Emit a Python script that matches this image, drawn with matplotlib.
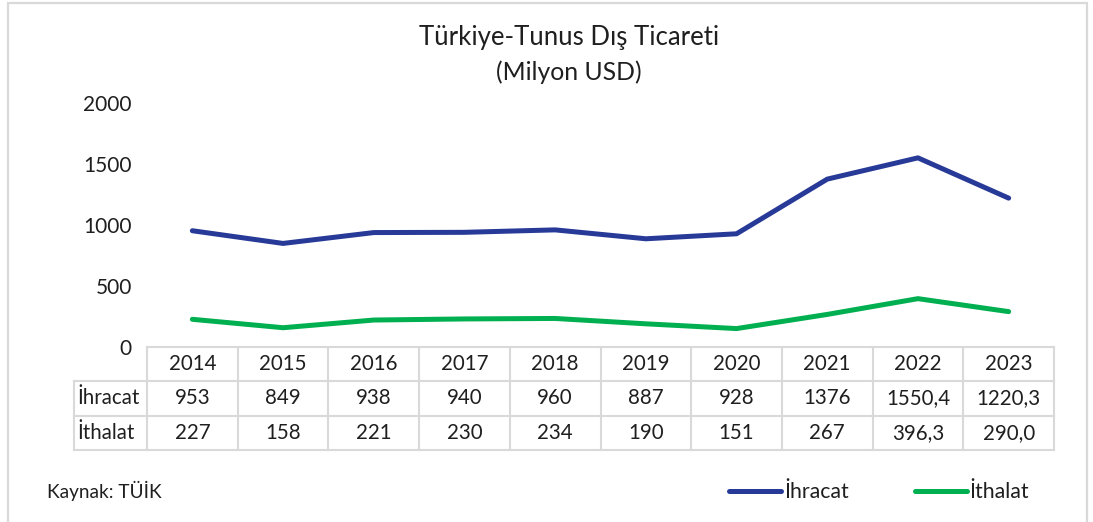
import matplotlib
matplotlib.use("Agg")
import matplotlib.pyplot as plt
from matplotlib.patches import Rectangle
from matplotlib.lines import Line2D
from matplotlib.transforms import blended_transform_factory

plt.rcParams['font.family'] = ['Lato', 'DejaVu Sans']

years = ["2014", "2015", "2016", "2017", "2018", "2019", "2020", "2021", "2022", "2023"]
ihracat = [953, 849, 938, 940, 960, 887, 928, 1376, 1550.4, 1220.3]
ithalat = [227, 158, 221, 230, 234, 190, 151, 267, 396.3, 290.0]
ihracat_labels = ["953", "849", "938", "940", "960", "887", "928", "1376", "1550,4", "1220,3"]
ithalat_labels = ["227", "158", "221", "230", "234", "190", "151", "267", "396,3", "290,0"]
series_names = ["İhracat", "İthalat"]
title = "Türkiye-Tunus Dış Ticareti"
subtitle = "(Milyon USD)"
source = "Kaynak: TÜİK"

W, H = 1093, 522
fig = plt.figure(figsize=(W / 100, H / 100), dpi=100)

def fx(px):
    return px / W

def fy(py):
    return 1 - py / H

TXT = '#1f1f1f'
GRID = '#d9d9d9'
BLUE = '#283A97'
GREEN = '#00B050'

# outer border
fig.patches.append(Rectangle((fx(8), fy(540)), fx(1087) - fx(8), fy(3) - fy(540),
                             transform=fig.transFigure, fill=False,
                             edgecolor=GRID, lw=1.6))

ax_left, ax_right, ax_top, ax_bot = 147, 1054, 103, 347
ax = fig.add_axes([fx(ax_left), fy(ax_bot), fx(ax_right) - fx(ax_left), fy(ax_top) - fy(ax_bot)])
x = list(range(len(years)))
l1, = ax.plot(x, ihracat, color=BLUE, lw=3.6, solid_capstyle='round', solid_joinstyle='round')
l2, = ax.plot(x, ithalat, color=GREEN, lw=3.6, solid_capstyle='round', solid_joinstyle='round')
ax.set_xlim(-0.5, len(years) - 0.5)
ax.set_ylim(0, 2000)
ax.set_yticks([0, 500, 1000, 1500, 2000])
ax.set_xticks([])
ax.tick_params(axis='y', length=0, pad=11, labelsize=15, labelcolor=TXT)
for s in ax.spines.values():
    s.set_visible(False)
ax.patch.set_alpha(0)

# data table
tr = blended_transform_factory(ax.transData, fig.transFigure)
row_lines = [347, 381, 416, 450]
hdr_left = 74
n = len(years)
fig.add_artist(Line2D([fx(ax_left), fx(ax_right)], [fy(row_lines[0])] * 2, color=GRID, lw=1.5,
                      transform=fig.transFigure))
for yy in row_lines[1:]:
    fig.add_artist(Line2D([fx(hdr_left), fx(ax_right)], [fy(yy)] * 2, color=GRID, lw=1.5,
                          transform=fig.transFigure))
for i in range(n + 1):
    fig.add_artist(Line2D([i - 0.5, i - 0.5], [fy(row_lines[0]), fy(row_lines[-1])], color=GRID,
                          lw=1.5, transform=tr))
fig.add_artist(Line2D([fx(hdr_left)] * 2, [fy(row_lines[1]), fy(row_lines[-1])], color=GRID,
                      lw=1.5, transform=fig.transFigure))

fs = 14.8
row_centers = [(row_lines[k] + row_lines[k + 1]) / 2 for k in range(3)]
for i in range(n):
    fig.text(i, fy(row_centers[0]), years[i], transform=tr, ha='center', va='center',
             fontsize=fs, color=TXT)
    fig.text(i, fy(row_centers[1]), ihracat_labels[i], transform=tr, ha='center', va='center',
             fontsize=fs, color=TXT)
    fig.text(i, fy(row_centers[2]), ithalat_labels[i], transform=tr, ha='center', va='center',
             fontsize=fs, color=TXT)
fig.text(fx(77), fy(row_centers[1]), series_names[0], ha='left', va='center', fontsize=fs, color=TXT)
fig.text(fx(77), fy(row_centers[2]), series_names[1], ha='left', va='center', fontsize=fs, color=TXT)

# titles
fig.text(fx(569), fy(37), title, ha='center', va='center', fontsize=18.5, color=TXT)
fig.text(fx(569), fy(72), subtitle, ha='center', va='center', fontsize=17.8, color=TXT)

# source
fig.text(fx(47), fy(491), source, ha='left', va='center', fontsize=13.7, color=TXT)

# legend
leg = fig.legend([l1, l2], series_names, loc='center', bbox_to_anchor=(fx(879), fy(492)),
                 ncol=2, frameon=False, fontsize=15.3, handlelength=2.45, handletextpad=0.14,
                 columnspacing=3.1, labelcolor=TXT)

fig.savefig("out.png", dpi=100)
